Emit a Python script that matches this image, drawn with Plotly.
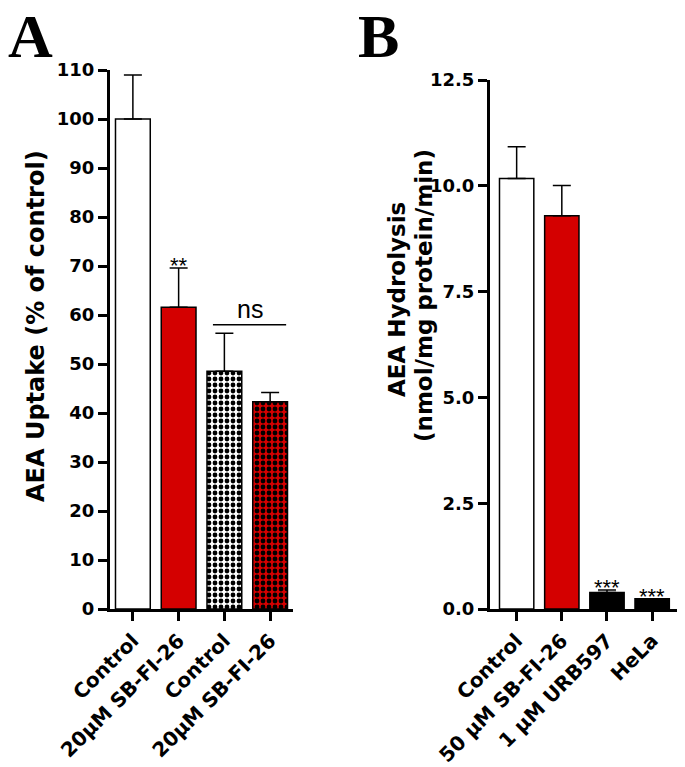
import plotly.graph_objects as go

W, H = 685, 767

# ---- Data ----
a_labels = ["Control", "20\u03bcM SB-FI-26", "Control", "20\u03bcM SB-FI-26"]
a_values = [100.0, 61.6, 48.5, 42.3]
a_errors = [9.0, 8.0, 7.8, 1.9]

b_labels = ["Control", "50 \u03bcM SB-FI-26", "1 \u03bcM URB597", "HeLa"]
b_values = [10.17, 9.29, 0.39, 0.24]
b_errors = [0.75, 0.72, 0.06, 0.0]

a_y_ticks = list(range(0, 111, 10))
b_y_ticks = [0.0, 2.5, 5.0, 7.5, 10.0, 12.5]

RED = "#d40000"
FONT = "DejaVu Sans"

def px_x(p):
    return p / W

def px_y(p):
    return 1 - p / H

fig = go.Figure()

a_fill = ["white", RED, "white", RED]
a_pattern = ["", "", ".", "."]
for i in range(len(a_values)):
    marker = dict(color=a_fill[i], line=dict(color="black", width=1.5))
    if a_pattern[i]:
        marker["pattern"] = dict(shape=a_pattern[i], fgcolor="black", bgcolor=a_fill[i],
                                 size=6, solidity=0.5, fillmode="replace")
    fig.add_trace(go.Bar(
        x=[i], y=[a_values[i]], xaxis="x", yaxis="y", width=0.76,
        marker=marker,
        error_y=dict(type="data", array=[a_errors[i]], arrayminus=[0], symmetric=False,
                     color="black", thickness=1.5, width=9),
        showlegend=False,
    ))

fig.add_trace(go.Bar(
    x=list(range(len(b_values))), y=b_values,
    xaxis="x2", yaxis="y2", width=0.76,
    marker=dict(color=["white", RED, "black", "black"],
                line=dict(color="black", width=1.5)),
    error_y=dict(type="data", array=b_errors, arrayminus=[0] * 4, symmetric=False,
                 color="black", thickness=1.5, width=9),
    showlegend=False,
))

axis_common = dict(showline=True, linecolor="black", linewidth=3, ticks="outside",
                   ticklen=9, tickwidth=3, tickcolor="black", showgrid=False,
                   zeroline=False, automargin=False)
ytick_font = dict(family=FONT, size=18, color="black", weight="bold")
xtick_font = dict(family=FONT, size=20, color="black", weight="bold")

fig.update_layout(
    width=W, height=H, margin=dict(l=0, r=0, t=0, b=0, autoexpand=False),
    paper_bgcolor="white", plot_bgcolor="white",
    barmode="overlay",
    xaxis=dict(domain=[px_x(110), px_x(293)], range=[-0.5, 3.5], anchor="y",
               tickvals=list(range(4)), ticktext=a_labels, tickangle=-45,
               tickfont=xtick_font, **axis_common),
    yaxis=dict(domain=[px_y(609), px_y(70)], range=[0, 110], anchor="x",
               tickvals=a_y_ticks, tickfont=ytick_font, **axis_common),
    xaxis2=dict(domain=[px_x(490), px_x(677)], range=[-0.59, 3.55], anchor="y2",
                tickvals=list(range(4)), ticktext=b_labels, tickangle=-45,
                tickfont=xtick_font, **axis_common),
    yaxis2=dict(domain=[px_y(609), px_y(80)], range=[0, 12.5], anchor="x2",
                tickvals=b_y_ticks, tickformat=".1f", tickfont=ytick_font, **axis_common),
)

# ns bracket line
fig.add_shape(type="line", xref="x", yref="y", x0=1.75, x1=3.35, y0=58, y1=58,
              line=dict(color="black", width=1.5))

ann_font = dict(family="Liberation Sans", size=22, color="black")
fig.add_annotation(x=1, y=a_values[1] + a_errors[1], xref="x", yref="y", text="**",
                   showarrow=False, yanchor="bottom", yshift=-12, font=ann_font)
fig.add_annotation(x=2.55, y=58, xref="x", yref="y", text="ns",
                   showarrow=False, yanchor="bottom", yshift=0,
                   font=dict(family="Liberation Sans", size=25, color="black"))
for i in (2, 3):
    fig.add_annotation(x=i, y=b_values[i] + b_errors[i], xref="x2", yref="y2", text="***",
                       showarrow=False, yanchor="bottom", yshift=-12, font=ann_font)

# axis titles
fig.add_annotation(x=px_x(36), y=px_y(326), xref="paper", yref="paper",
                   xanchor="center", yanchor="middle",
                   text="AEA Uptake (% of control)", textangle=-90, showarrow=False,
                   font=dict(family=FONT, size=24, color="black", weight="bold"))
fig.add_annotation(x=px_x(397), y=px_y(300), xref="paper", yref="paper",
                   xanchor="center", yanchor="middle",
                   text="AEA Hydrolysis", textangle=-90, showarrow=False,
                   font=dict(family=FONT, size=23, color="black", weight="bold"))
fig.add_annotation(x=px_x(424), y=px_y(296), xref="paper", yref="paper",
                   xanchor="center", yanchor="middle",
                   text="(nmol/mg protein/min)", textangle=-90, showarrow=False,
                   font=dict(family=FONT, size=23, color="black", weight="bold"))

# panel labels
for lab, xp in (("A", 30), ("B", 378)):
    fig.add_annotation(x=px_x(xp), y=1, xref="paper", yref="paper", text=lab,
                       showarrow=False, xanchor="center", yanchor="top",
                       font=dict(family="Liberation Serif", size=62, color="black", weight="bold"))

fig.write_html("out.html", config={"displayModeBar": False},
               post_script="document.body.style.margin='0';")
